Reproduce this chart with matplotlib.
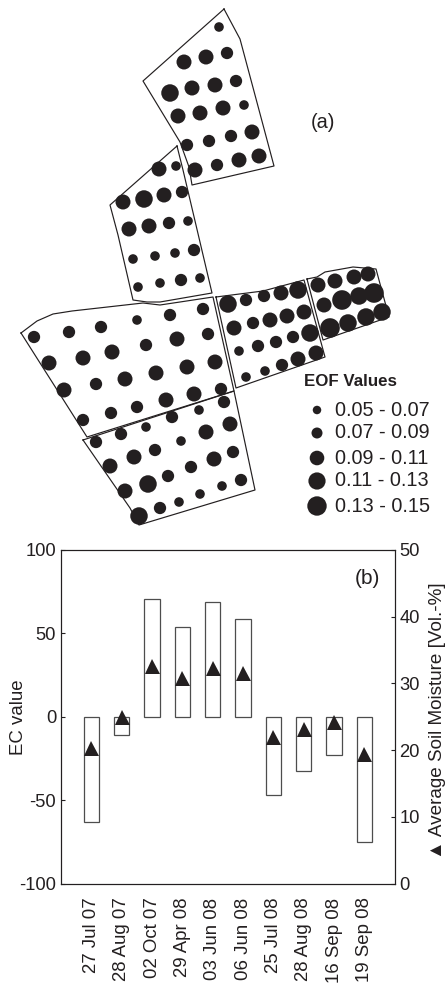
import numpy as np
import matplotlib
matplotlib.use("Agg")
import matplotlib.pyplot as plt

plt.rcParams['font.family'] = ['Liberation Sans', 'DejaVu Sans']

INK = '#231f20'

# ==========================================================
# Panel (b) data
# ==========================================================
dates = ['27 Jul 07', '28 Aug 07', '02 Oct 07', '29 Apr 08', '03 Jun 08',
         '06 Jun 08', '25 Jul 08', '28 Aug 08', '16 Sep 08', '19 Sep 08']
ec_values = [-63, -11, 70.6, 53.6, 68.6, 58.6, -46.8, -32.2, -23, -74.8]
soil_moisture = [20.4, 25.0, 32.6, 30.85, 32.35, 31.6, 22.0, 23.2, 24.25, 19.5]
ec_ticks = [-100, -50, 0, 50, 100]
moisture_ticks = [0, 10, 20, 30, 40, 50]

# ==========================================================
# Panel (a) data, map positions
# (x, y, class), class indexes legend_labels
# ==========================================================
legend_labels = ['0.05 - 0.07', '0.07 - 0.09', '0.09 - 0.11', '0.11 - 0.13', '0.13 - 0.15']
class_diam = [9.6, 12.3, 15, 17.5, 19.6]

dots_north = [
    (219, 27, 0),
    (184, 62, 2), (206, 57, 2), (227, 53, 1),
    (170, 93, 3), (192, 88, 2), (215, 85, 2), (236, 81, 1),
    (178, 116, 2), (200, 113, 2), (223, 108, 2), (244, 105, 0),
    (187, 145, 1), (209, 141, 1), (231, 136, 1), (252, 132, 2),
    (195, 170, 2), (217, 165, 1), (239, 160, 2), (259, 156, 2),
]
dots_upper = [
    (159, 169, 2), (176, 166, 0),
    (123, 202, 2), (144, 199, 3), (164, 195, 2), (182, 192, 1),
    (129, 229, 2), (149, 226, 2), (169, 223, 1), (188, 221, 0),
    (133, 259, 0), (155, 256, 0), (175, 253, 0), (194, 250, 1),
    (138, 287, 0), (160, 283, 0), (181, 280, 1), (200, 278, 0),
]
dots_west = [
    (34, 337, 1), (69, 332, 1), (101, 327, 1), (137, 320, 0), (170, 315, 1), (203, 309, 1),
    (49, 363, 2), (83, 358, 2), (112, 352, 2), (146, 345, 1), (177, 339, 2), (208, 334, 1),
    (64, 390, 2), (96, 384, 1), (125, 379, 2), (156, 373, 2), (187, 367, 2), (215, 362, 2),
    (83, 420, 1), (111, 413, 1), (137, 407, 1), (166, 400, 2), (194, 394, 2), (221, 389, 1),
]
dots_south = [
    (96, 442, 1), (121, 434, 1), (146, 427, 0), (172, 417, 1), (199, 410, 0), (224, 402, 1),
    (110, 466, 2), (134, 457, 2), (155, 450, 1), (181, 441, 0), (206, 432, 2), (230, 424, 2),
    (125, 491, 2), (148, 484, 3), (168, 476, 1), (191, 467, 1), (214, 459, 2), (233, 452, 1),
    (139, 516, 3), (160, 508, 1), (179, 502, 0), (200, 494, 0), (222, 486, 0), (241, 480, 1),
]
dots_middle = [
    (228, 304, 3), (246, 300, 1), (264, 296, 1), (281, 293, 2), (298, 290, 3),
    (234, 328, 2), (253, 323, 1), (270, 320, 2), (287, 316, 2), (304, 312, 2),
    (239, 351, 0), (258, 346, 1), (276, 342, 1), (293, 337, 1), (310, 333, 3),
    (246, 377, 0), (265, 371, 0), (282, 365, 1), (298, 359, 2), (316, 353, 2),
]
dots_east = [
    (318, 285, 2), (335, 281, 2), (354, 277, 2), (368, 274, 2),
    (324, 305, 2), (342, 300, 4), (359, 296, 3), (374, 293, 4),
    (330, 328, 4), (348, 323, 3), (366, 317, 3), (382, 312, 3),
]
legend_x = [317, 317, 317, 317, 317]
legend_y = [410, 433, 458, 481, 506]
legend_text_y = [410, 433, 458, 481, 506]

# field outlines
outline_north = [(224, 9), (240, 39), (274, 166), (192, 185), (189, 167), (180, 142), (143, 81), (224, 9)]
outline_upper = [(177, 146), (110, 205), (118, 235), (133, 300), (147, 302), (160, 302), (212, 293), (183, 170), (177, 146)]
outline_west = [(21, 333), (37, 321), (53, 314), (72, 311), (143, 303), (160, 305), (180, 302), (213, 297),
                (234, 391), (87, 437), (21, 333)]
outline_south = [(83, 440), (234, 391), (255, 490), (139, 525), (130, 508), (83, 440)]
outline_middle = [(216, 297), (263, 291), (304, 280), (325, 357), (236, 388), (216, 297)]
outline_east = [(307, 279), (317, 277), (325, 272), (353, 267), (376, 269), (389, 317), (323, 340), (307, 279)]

# ==========================================================
# Figure
# ==========================================================
W, H = 446, 983
fig = plt.figure(figsize=(W / 100, H / 100), dpi=100)

# map panel drawn in an overlay with image-like coordinates
ax_map = fig.add_axes([0, 0, 1, 1])
ax_map.set_xlim(0, W)
ax_map.set_ylim(H, 0)
ax_map.axis('off')

for outline in [outline_north, outline_upper, outline_west, outline_south, outline_middle, outline_east]:
    xs, ys = zip(*outline)
    ax_map.plot(xs, ys, color=INK, lw=0.85, solid_joinstyle='round')

for dots in [dots_north, dots_upper, dots_west, dots_south, dots_middle, dots_east]:
    arr = np.array(dots)
    sizes = [(class_diam[int(c)] * 0.72) ** 2 for c in arr[:, 2]]
    ax_map.scatter(arr[:, 0], arr[:, 1], s=sizes, color=INK, linewidths=0, zorder=3)

ax_map.scatter(legend_x, legend_y, s=[(d * 0.72) ** 2 for d in [8.5, 11, 14.6, 17.2, 19.4]],
               color=INK, linewidths=0, zorder=3)
for lab, y in zip(legend_labels, legend_text_y):
    ax_map.text(335, y, lab, fontsize=14.3, color=INK, va='center', ha='left')
ax_map.text(304, 381.5, 'EOF Values', fontsize=12.2, fontweight='bold', color=INK, va='center', ha='left')
ax_map.text(311, 122, '(a)', fontsize=14.3, color=INK, va='center', ha='left')

# bar panel
left, right, top, bottom = 61, 394.7, 550, 883.7
ax = fig.add_axes([left / W, 1 - bottom / H, (right - left) / W, (bottom - top) / H])
ax.patch.set_alpha(0)
pos = np.arange(1, len(dates) + 1)
ax.bar(pos, ec_values, width=0.5, facecolor='white', edgecolor='#4d4d4d', linewidth=0.9)
ax.set_xlim(0, 11)
ax.set_ylim(-100, 100)
ax.set_yticks(ec_ticks)
ax.set_yticklabels([str(t) for t in ec_ticks])
ax.set_xticks(pos)
ax.set_xticklabels(dates, rotation=90, fontsize=13.4, color=INK, ha='center', va='top')
ax.tick_params(axis='x', length=0, pad=10)
ax.tick_params(axis='y', direction='in', length=3, width=0.8, labelsize=13.2, labelcolor=INK, color=INK, pad=3.5)
ax.set_ylabel('EC value', fontsize=13.4, color=INK, labelpad=0)
ax.yaxis.set_label_coords(-0.102, 0.5)
for s in ax.spines.values():
    s.set_color(INK)
    s.set_linewidth(0.8)
ax.text(0.955, 0.915, '(b)', transform=ax.transAxes, fontsize=15, color=INK, ha='right', va='center')

ax2 = ax.twinx()
ax2.plot(pos, soil_moisture, linestyle='none', marker='^', ms=10.8, color=INK, mew=0)
ax2.set_ylim(0, 50)
ax2.set_yticks(moisture_ticks)
ax2.tick_params(axis='y', direction='in', length=3, width=0.8, labelsize=13.2, labelcolor=INK, color=INK, pad=3.5)
for s in ax2.spines.values():
    s.set_color(INK)
    s.set_linewidth(0.8)

fig.text(438 / W, 1 - 721 / H, '\u25b2 Average Soil Moisture [Vol.-%]', rotation=90,
         fontsize=13.6, color=INK, ha='center', va='center')

fig.savefig('out.png', dpi=100)
